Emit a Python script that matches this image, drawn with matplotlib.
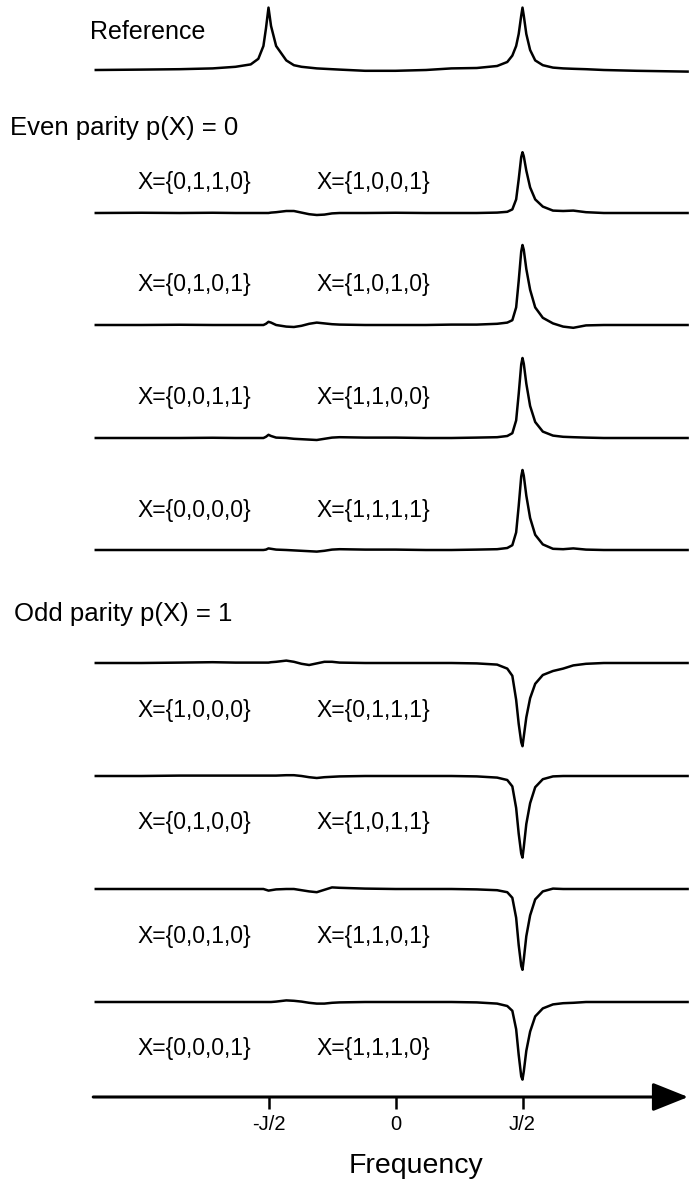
import matplotlib.pyplot as plt

plt.rcParams['font.family'] = ['Liberation Sans', 'DejaVu Sans']

# frequency grid in units of J (shared by all traces)
freq = [-1.18, -1.0, -0.85, -0.72, -0.63, -0.57, -0.54, -0.52, -0.51, -0.50,
        -0.49, -0.47, -0.43, -0.40, -0.37, -0.34, -0.31, -0.28, -0.25, -0.22,
        -0.12, 0.0, 0.12, 0.22, 0.32, 0.40, 0.44, 0.46, 0.475, 0.485,
        0.495, 0.50, 0.505, 0.515, 0.53, 0.55, 0.58, 0.62, 0.66, 0.70,
        0.75, 0.82, 0.95, 1.15]

reference = [0, 0.5, 1, 2, 4, 7, 14, 30, 52, 78,
             55, 30, 12, 6, 4, 3, 2, 1.5, 1, 0.5,
             -1, -1, 0, 2, 2.5, 5, 10, 18, 30, 45,
             68, 78, 68, 45, 25, 12, 6, 3, 2, 1.5,
             1, 0, -1, -2]

even_labels = [("X={0,1,1,0}", "X={1,0,0,1}"),
               ("X={0,1,0,1}", "X={1,0,1,0}"),
               ("X={0,0,1,1}", "X={1,1,0,0}"),
               ("X={0,0,0,0}", "X={1,1,1,1}")]
odd_labels = [("X={1,0,0,0}", "X={0,1,1,1}"),
              ("X={0,1,0,0}", "X={1,0,1,1}"),
              ("X={0,0,1,0}", "X={1,1,0,1}"),
              ("X={0,0,0,1}", "X={1,1,1,0}")]

even_spectra = [
    [0, 0.3, 0, 0.3, 0, 0, 0, 0, 0, 0,
     0.5, 1, 2.5, 2.5, 0.5, -1.5, -2.5, -2, -0.5, 0,
     0, 0.3, 0, 0, 0, 0.5, 1.5, 4.5, 17, 42,
     70, 76, 71, 53, 32, 17, 8, 3, 2.5, 3,
     1, 0, 0, 0],
    [0, 0, 0.3, 0, 0, 0, 0, 0, 1.5, 4,
     3, 0, -2, -2.5, -1, 1.5, 3, 2, 1, 0.5,
     0, 0, 0, 0.5, 0.5, 1.5, 3, 6, 22, 55,
     92, 100, 94, 70, 44, 22, 9, 2, -2, -3.5,
     -0.5, 0, 0, 0],
    [0, 0, 0, 0.3, 0, 0, 0, 0, 1.5, 4,
     2.5, 0.5, 0, -1, -1.5, -2, -2.5, -1, 0.5, 1,
     0.5, 0.5, 0, 0, 0.5, 1, 2.5, 6, 22, 55,
     92, 100, 93, 68, 40, 20, 8, 3, 1.5, 1,
     0.5, 0, 0, 0],
    [0, 0, 0, 0, 0, 0, 0, 0, 0.5, 2,
     1.5, 0.5, 0, -0.5, -1, -1.5, -2, -1, 0.5, 1,
     0.5, 0.5, 0, 0, 0.5, 1, 2.5, 6, 22, 55,
     92, 100, 93, 68, 40, 19, 7, 1.5, 1, 2,
     0.5, 0, 0, 0],
]

odd_spectra = [
    [0, 0, 0.5, 1, 0.5, 0.5, 0.5, 0.5, 0.5, 0.5,
     1, 1.5, 3, 1.5, -1, -2.5, -0.5, 1.5, 1.5, 0.5,
     0, 0, 0, 0, -0.5, -2, -7, -16, -46, -76,
     -99, -104, -92, -68, -44, -26, -15, -10, -7, -3,
     -1, 0, 0, 0],
    [0, 0, 0.5, 0.5, 0.5, 0.5, 0.5, 0.5, 0.5, 0.5,
     0.5, 0.5, 1, 1, 0, -1.5, -2.5, -1.5, -1, -0.5,
     0, 0, 0, 0, -0.5, -2, -5, -13, -40, -72,
     -97, -102, -89, -60, -34, -14, -4, -0.5, 0, 0,
     0, 0, 0, 0],
    [0, 0, 0, 0, 0, 0, 0, 0, -1, -2,
     -1.5, -0.5, 0, 0, -1.5, -3, -4, -1, 2, 1.5,
     0.5, 0, 0, 0, -0.5, -1.5, -4, -11, -36, -70,
     -96, -101, -88, -59, -33, -13, -3, 0.5, 0, 0,
     0, 0, 0, 0],
    [0, 0, 0, 0, 0, 0, 0, 0, 0, 0,
     0, 0.5, 2, 1.5, 0.5, -1, -2, -2, -1, -0.5,
     0, 0, 0, 0, -0.5, -2, -5, -11, -34, -66,
     -93, -97, -87, -61, -37, -18, -8, -3, -1.5, -1,
     0, 0, 0, 0],
]

tick_pos = [-0.5, 0.0, 0.5]
tick_labels = ["-J/2", "0", "J/2"]

W, H = 689, 1185
fig = plt.figure(figsize=(W / 100, H / 100), dpi=100)
ax = fig.add_axes([0, 0, 1, 1])
ax.set_xlim(-395.5 / 254, (W - 395.5) / 254)
ax.set_ylim(H, 0)
ax.axis('off')

scale = 0.8  # pixels per intensity unit


def draw_trace(values, base):
    ax.plot(freq, [base - scale * v for v in values], color='k', lw=1.8,
            solid_joinstyle='round')


def px_text(x, y, s, size, **kw):
    fig.text(x / W, 1 - y / H, s, fontsize=size, va='center', **kw)


draw_trace(reference, 70)
px_text(90, 32, "Reference", 18)

px_text(10, 128, "Even parity p(X) = 0", 18.5)
even_base = [213, 325, 438, 550]
even_text = [183, 285, 397, 510]
for vals, base, ty, (l1, l2) in zip(even_spectra, even_base, even_text, even_labels):
    draw_trace(vals, base)
    px_text(137, ty, l1, 16.5)
    px_text(316, ty, l2, 16.5)

px_text(14, 614, "Odd parity p(X) = 1", 18.5)
odd_base = [663, 776, 889, 1002]
odd_text = [710, 822, 936, 1048]
for vals, base, ty, (l1, l2) in zip(odd_spectra, odd_base, odd_text, odd_labels):
    draw_trace(vals, base)
    px_text(137, ty, l1, 16.5)
    px_text(316, ty, l2, 16.5)

# frequency axis arrow
ax_y = 1097
ax.annotate('', xy=(1.152, ax_y), xytext=(-1.19, ax_y),
            arrowprops=dict(arrowstyle='-|>,head_length=0.55,head_width=0.22',
                            mutation_scale=40, lw=2.2, color='k',
                            shrinkA=0, shrinkB=0))
ax.vlines(tick_pos, ax_y, ax_y + 12, color='k', lw=1.8)
for p, lab in zip(tick_pos, tick_labels):
    ax.text(p, 1124, lab, fontsize=14.5, ha='center', va='center')
ax.text(0.08, 1166, "Frequency", fontsize=20.5, ha='center', va='center')

fig.savefig('out.png', dpi=100)
